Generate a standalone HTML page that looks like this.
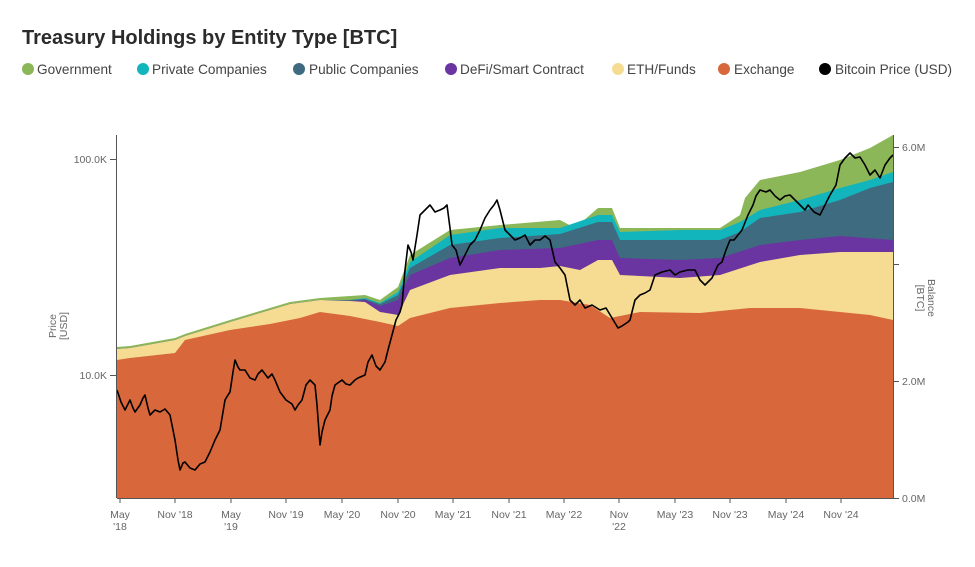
<!DOCTYPE html>
<html><head><meta charset="utf-8"><style>
body{margin:0;background:#fff;width:975px;height:562px;overflow:hidden;font-family:"Liberation Sans",sans-serif}
</style></head><body>
<svg width="975" height="562" viewBox="0 0 975 562" xmlns="http://www.w3.org/2000/svg" font-family="Liberation Sans, sans-serif">
<text x="22" y="44" font-size="20" font-weight="bold" fill="#2b2b2b">Treasury Holdings by Entity Type [BTC]</text>
<g font-size="13.6" fill="#444">
<circle cx="28" cy="69" r="6" fill="#8bb758"/><text x="37" y="74">Government</text>
<circle cx="143" cy="69" r="6" fill="#13b5bd"/><text x="152" y="74">Private Companies</text>
<circle cx="299" cy="69" r="6" fill="#3e6b80"/><text x="309" y="74">Public Companies</text>
<circle cx="451" cy="69" r="6" fill="#6a35a0"/><text x="460" y="74">DeFi/Smart Contract</text>
<circle cx="618" cy="69" r="6" fill="#f5dc92"/><text x="627" y="74">ETH/Funds</text>
<circle cx="724" cy="69" r="6" fill="#d8673c"/><text x="734" y="74">Exchange</text>
<circle cx="825" cy="69" r="6" fill="#000"/><text x="835" y="74">Bitcoin Price (USD)</text>
</g>
<!-- Government -->
<polygon fill="#8bb758" points="117,347 130,346 175,338 185,334 230,320 290,302 320,298 350,296 365,295 380,300 398,287 410,255 450,230 500,225 560,220 575,228 598,208 612,208 620,228 680,228 720,228 740,215 745,198 760,180 800,172 840,160 870,148 893,135 893,498 117,498"/>
<!-- Private -->
<polygon fill="#13b5bd" points="117,349 130,348 175,340 185,336 230,322 290,304 320,300 350,300 365,298 380,303 398,292 410,262 450,235 500,228 560,228 598,215 612,215 620,232 680,230 720,230 740,222 760,210 800,200 840,188 870,180 893,172 893,498 117,498"/>
<!-- Public -->
<polygon fill="#3e6b80" points="117,349 130,348 175,340 185,336 230,322 290,304 320,300 350,300 365,299 380,304 398,295 410,268 450,245 500,238 560,234 598,222 612,222 620,240 680,240 720,240 740,232 760,218 800,212 840,200 870,188 893,182 893,498 117,498"/>
<!-- DeFi -->
<polygon fill="#6a35a0" points="117,349 130,348 175,340 185,336 230,322 290,304 320,300 350,301 365,300 380,306 398,300 410,275 450,258 500,250 560,248 598,240 612,240 620,258 680,260 720,258 760,245 800,240 840,236 893,240 893,498 117,498"/>
<!-- ETH -->
<polygon fill="#f5dc92" points="117,349 130,348 175,340 185,336 230,322 290,304 320,300 350,301 365,302 380,312 398,315 410,290 450,275 500,268 540,268 560,266 580,270 598,260 612,260 620,275 680,278 720,275 760,262 800,255 840,252 870,252 893,252 893,498 117,498"/>
<!-- Exchange -->
<polygon fill="#d8673c" points="117,360 130,358 175,353 185,340 230,330 270,324 300,318 320,312 350,316 380,322 398,326 410,318 450,308 500,303 540,300 560,300 590,305 610,318 640,312 700,313 750,308 800,308 840,312 870,315 893,320 893,498 117,498"/>
<!-- price -->
<polyline fill="none" stroke="#000" stroke-width="1.6" stroke-linejoin="round" points="117,390 121,402 125,410 128,404 130,400 133,408 135,412 140,405 143,398 145,395 148,408 150,415 155,410 160,412 165,409 170,415 175,440 178,460 180,470 183,463 185,462 190,468 195,470 200,464 205,462 210,452 215,440 220,430 225,400 228,395 230,392 233,372 235,360 238,367 240,370 245,370 250,378 255,380 258,374 262,370 268,378 272,374 275,380 280,392 286,400 292,404 295,410 298,405 302,400 306,385 310,380 315,385 317,405 320,445 322,432 325,420 330,410 332,396 335,385 342,380 346,384 350,385 355,380 358,378 365,375 368,362 372,355 376,366 380,370 385,362 388,350 392,335 396,320 400,312 402,305 405,270 408,245 411,252 413,260 417,235 420,215 425,210 430,205 435,212 440,210 444,208 447,205 450,228 452,245 456,250 460,265 465,255 470,245 475,240 480,230 485,218 490,210 494,205 497,200 500,210 505,230 510,235 515,240 520,238 525,235 530,245 535,240 540,240 545,236 550,240 555,262 560,268 565,275 570,300 575,305 580,300 585,308 592,305 600,310 606,308 612,318 618,328 622,326 628,322 630,320 635,300 640,295 645,293 650,290 655,275 662,272 670,270 675,275 680,272 688,270 695,270 700,280 705,285 712,278 718,265 722,262 726,250 730,240 734,240 738,235 742,230 748,215 753,205 756,196 760,190 766,192 770,190 775,196 780,200 785,196 790,195 795,200 800,205 805,210 808,205 814,212 820,215 825,205 830,195 836,185 840,165 845,158 850,153 855,158 860,157 865,165 870,175 875,170 880,178 885,165 890,158 893,155"/>
<!-- axes -->
<g stroke="#555" stroke-width="1" fill="none">
<line x1="116.5" y1="135" x2="116.5" y2="498"/>
<line x1="893.5" y1="135" x2="893.5" y2="498"/>
<line x1="110" y1="159.5" x2="116" y2="159.5"/>
<line x1="110" y1="375.5" x2="116" y2="375.5"/>
<line x1="893" y1="147.5" x2="899" y2="147.5"/>
<line x1="893" y1="264.5" x2="899" y2="264.5"/>
<line x1="893" y1="381.5" x2="899" y2="381.5"/>
<line x1="893" y1="498.5" x2="899" y2="498.5"/>
<line x1="117" y1="498.5" x2="893" y2="498.5"/>
<g>
<line x1="120" y1="498" x2="120" y2="503"/><line x1="175" y1="498" x2="175" y2="503"/><line x1="231" y1="498" x2="231" y2="503"/><line x1="286" y1="498" x2="286" y2="503"/><line x1="342" y1="498" x2="342" y2="503"/><line x1="398" y1="498" x2="398" y2="503"/><line x1="453" y1="498" x2="453" y2="503"/><line x1="509" y1="498" x2="509" y2="503"/><line x1="564" y1="498" x2="564" y2="503"/><line x1="619" y1="498" x2="619" y2="503"/><line x1="675" y1="498" x2="675" y2="503"/><line x1="730" y1="498" x2="730" y2="503"/><line x1="786" y1="498" x2="786" y2="503"/><line x1="841" y1="498" x2="841" y2="503"/>
</g></g>
<g font-size="10.5" fill="#666">
<text x="107" y="163" text-anchor="end">100.0K</text>
<text x="107" y="379" text-anchor="end">10.0K</text>
<text x="902" y="151">6.0M</text>
<text x="902" y="385">2.0M</text>
<text x="902" y="502">0.0M</text>
<g text-anchor="middle">
<text x="120" y="518">May</text><text x="120" y="530">'18</text>
<text x="175" y="518">Nov '18</text>
<text x="231" y="518">May</text><text x="231" y="530">'19</text>
<text x="286" y="518">Nov '19</text>
<text x="342" y="518">May '20</text>
<text x="398" y="518">Nov '20</text>
<text x="453" y="518">May '21</text>
<text x="509" y="518">Nov '21</text>
<text x="564" y="518">May '22</text>
<text x="619" y="518">Nov</text><text x="619" y="530">'22</text>
<text x="675" y="518">May '23</text>
<text x="730" y="518">Nov '23</text>
<text x="786" y="518">May '24</text>
<text x="841" y="518">Nov '24</text>
</g>
<text transform="translate(56,326) rotate(-90)" text-anchor="middle">Price</text>
<text transform="translate(67,326) rotate(-90)" text-anchor="middle">[USD]</text>
<text transform="translate(928,298) rotate(90)" text-anchor="middle">Balance</text>
<text transform="translate(917,298) rotate(90)" text-anchor="middle">[BTC]</text>
</g>
</svg>
</body></html>
